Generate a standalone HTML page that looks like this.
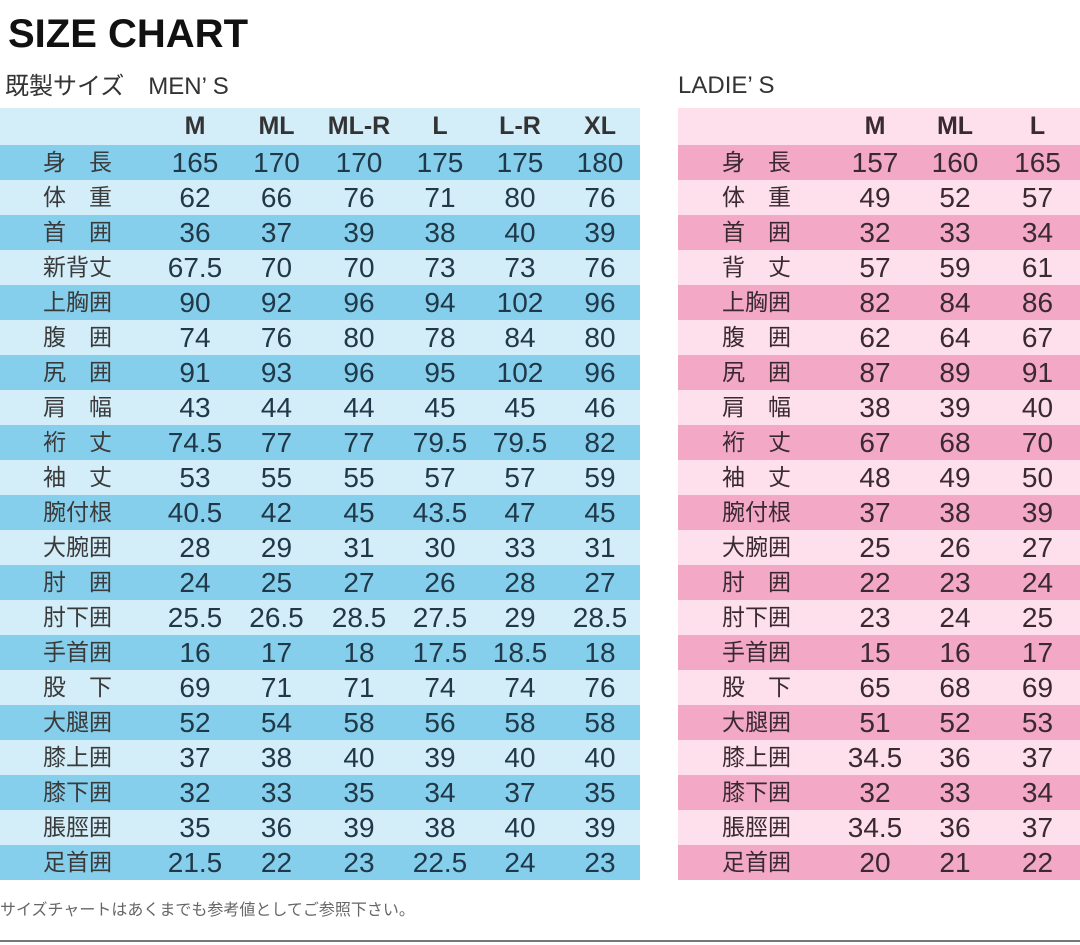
<!DOCTYPE html>
<html><head><meta charset="utf-8"><style>
body{margin:0;width:1080px;height:945px;background:#fff;position:relative;overflow:hidden;font-family:"Liberation Sans","Noto Sans CJK JP",sans-serif}
.t{position:absolute;border-collapse:collapse;table-layout:fixed}
.t td{height:35px;padding:0;text-align:center;font-size:28px;color:#203848;white-space:nowrap;line-height:35px}
.t td:first-child{font-size:23px;color:#3a3a3a}
.t tr.h td{height:37px;font-weight:bold;font-size:25px;color:#333}
#m tr.h{background:#d3eef9}
#m tr:nth-child(even){background:#86cfec}
#m tr:nth-child(odd){background:#d3eef9}
#l tr.h{background:#fde2ee}
#l tr:nth-child(even){background:#f3a9c6}
#l tr:nth-child(odd){background:#fde0ec}
#l td{color:#3a2a30}
</style></head><body>
<div style="position:absolute;left:8px;top:12px;font-size:40px;font-weight:bold;color:#111">SIZE CHART</div>
<div style="position:absolute;left:5px;top:66px;font-size:24px;color:#333">既製サイズ　MEN’ S</div>
<div style="position:absolute;left:678px;top:72px;font-size:24px;color:#333">LADIE’ S</div>
<table class="t" id="m" style="left:0;top:108px;width:640px">
<colgroup><col style="width:155px"><col style="width:80px"><col style="width:83px"><col style="width:82px"><col style="width:80px"><col style="width:80px"><col style="width:80px"></colgroup>
<tr class="h"><td></td><td>M</td><td>ML</td><td>ML-R</td><td>L</td><td>L-R</td><td>XL</td></tr>
<tr><td>身　長</td><td>165</td><td>170</td><td>170</td><td>175</td><td>175</td><td>180</td></tr>
<tr><td>体　重</td><td>62</td><td>66</td><td>76</td><td>71</td><td>80</td><td>76</td></tr>
<tr><td>首　囲</td><td>36</td><td>37</td><td>39</td><td>38</td><td>40</td><td>39</td></tr>
<tr><td>新背丈</td><td>67.5</td><td>70</td><td>70</td><td>73</td><td>73</td><td>76</td></tr>
<tr><td>上胸囲</td><td>90</td><td>92</td><td>96</td><td>94</td><td>102</td><td>96</td></tr>
<tr><td>腹　囲</td><td>74</td><td>76</td><td>80</td><td>78</td><td>84</td><td>80</td></tr>
<tr><td>尻　囲</td><td>91</td><td>93</td><td>96</td><td>95</td><td>102</td><td>96</td></tr>
<tr><td>肩　幅</td><td>43</td><td>44</td><td>44</td><td>45</td><td>45</td><td>46</td></tr>
<tr><td>裄　丈</td><td>74.5</td><td>77</td><td>77</td><td>79.5</td><td>79.5</td><td>82</td></tr>
<tr><td>袖　丈</td><td>53</td><td>55</td><td>55</td><td>57</td><td>57</td><td>59</td></tr>
<tr><td>腕付根</td><td>40.5</td><td>42</td><td>45</td><td>43.5</td><td>47</td><td>45</td></tr>
<tr><td>大腕囲</td><td>28</td><td>29</td><td>31</td><td>30</td><td>33</td><td>31</td></tr>
<tr><td>肘　囲</td><td>24</td><td>25</td><td>27</td><td>26</td><td>28</td><td>27</td></tr>
<tr><td>肘下囲</td><td>25.5</td><td>26.5</td><td>28.5</td><td>27.5</td><td>29</td><td>28.5</td></tr>
<tr><td>手首囲</td><td>16</td><td>17</td><td>18</td><td>17.5</td><td>18.5</td><td>18</td></tr>
<tr><td>股　下</td><td>69</td><td>71</td><td>71</td><td>74</td><td>74</td><td>76</td></tr>
<tr><td>大腿囲</td><td>52</td><td>54</td><td>58</td><td>56</td><td>58</td><td>58</td></tr>
<tr><td>膝上囲</td><td>37</td><td>38</td><td>40</td><td>39</td><td>40</td><td>40</td></tr>
<tr><td>膝下囲</td><td>32</td><td>33</td><td>35</td><td>34</td><td>37</td><td>35</td></tr>
<tr><td>脹脛囲</td><td>35</td><td>36</td><td>39</td><td>38</td><td>40</td><td>39</td></tr>
<tr><td>足首囲</td><td>21.5</td><td>22</td><td>23</td><td>22.5</td><td>24</td><td>23</td></tr>
</table>
<table class="t" id="l" style="left:678px;top:108px;width:402px">
<colgroup><col style="width:157px"><col style="width:80px"><col style="width:80px"><col style="width:85px"></colgroup>
<tr class="h"><td></td><td>M</td><td>ML</td><td>L</td></tr>
<tr><td>身　長</td><td>157</td><td>160</td><td>165</td></tr>
<tr><td>体　重</td><td>49</td><td>52</td><td>57</td></tr>
<tr><td>首　囲</td><td>32</td><td>33</td><td>34</td></tr>
<tr><td>背　丈</td><td>57</td><td>59</td><td>61</td></tr>
<tr><td>上胸囲</td><td>82</td><td>84</td><td>86</td></tr>
<tr><td>腹　囲</td><td>62</td><td>64</td><td>67</td></tr>
<tr><td>尻　囲</td><td>87</td><td>89</td><td>91</td></tr>
<tr><td>肩　幅</td><td>38</td><td>39</td><td>40</td></tr>
<tr><td>裄　丈</td><td>67</td><td>68</td><td>70</td></tr>
<tr><td>袖　丈</td><td>48</td><td>49</td><td>50</td></tr>
<tr><td>腕付根</td><td>37</td><td>38</td><td>39</td></tr>
<tr><td>大腕囲</td><td>25</td><td>26</td><td>27</td></tr>
<tr><td>肘　囲</td><td>22</td><td>23</td><td>24</td></tr>
<tr><td>肘下囲</td><td>23</td><td>24</td><td>25</td></tr>
<tr><td>手首囲</td><td>15</td><td>16</td><td>17</td></tr>
<tr><td>股　下</td><td>65</td><td>68</td><td>69</td></tr>
<tr><td>大腿囲</td><td>51</td><td>52</td><td>53</td></tr>
<tr><td>膝上囲</td><td>34.5</td><td>36</td><td>37</td></tr>
<tr><td>膝下囲</td><td>32</td><td>33</td><td>34</td></tr>
<tr><td>脹脛囲</td><td>34.5</td><td>36</td><td>37</td></tr>
<tr><td>足首囲</td><td>20</td><td>21</td><td>22</td></tr>
</table>
<div style="position:absolute;left:0;top:896px;font-size:16px;color:#666">サイズチャートはあくまでも参考値としてご参照下さい。</div>
<div style="position:absolute;left:0;top:940px;width:1080px;height:2px;background:#777"></div>
</body></html>
